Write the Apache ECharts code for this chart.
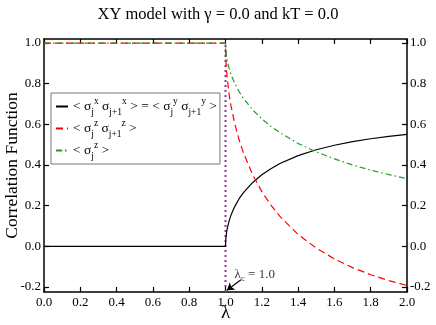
<!DOCTYPE html>
<html><head><meta charset="utf-8">
<script src="https://cdn.jsdelivr.net/npm/echarts@6/dist/echarts.min.js"></script>
<style>html,body{margin:0;padding:0;background:#fff}#c{width:436px;height:325px}</style>
</head><body><div id="c"></div>
<script>
const lambda = [0, 1, 1.001, 1.005, 1.01, 1.02, 1.03, 1.05, 1.075, 1.1, 1.15, 1.2, 1.25, 1.3, 1.4, 1.5, 1.6, 1.7, 1.8, 1.9, 2.0];
const sxsx = [0, 0, 0.028, 0.063, 0.089, 0.125, 0.153, 0.194, 0.234, 0.265, 0.314, 0.352, 0.382, 0.407, 0.446, 0.475, 0.497, 0.515, 0.529, 0.541, 0.551];
const szsz = [1, 1, 0.943, 0.873, 0.821, 0.748, 0.692, 0.607, 0.524, 0.457, 0.352, 0.269, 0.203, 0.147, 0.058, -0.009, -0.062, -0.105, -0.140, -0.169, -0.193];
const sz = [1, 1, 0.972, 0.936, 0.910, 0.874, 0.846, 0.803, 0.761, 0.726, 0.671, 0.627, 0.590, 0.559, 0.506, 0.465, 0.430, 0.400, 0.375, 0.353, 0.333];
const critX = [1, 1];
const critY = [-0.225, 1.0];
const yTicks = [-0.2, 0, 0.2, 0.4, 0.6, 0.8, 1.0];
const xMin = 0, xMax = 2, xStep = 0.2;
const yMin = -0.225, yMax = 1.02;

const F = 'Liberation Serif';
const pairs = (xs, ys) => xs.map((x, i) => [x, ys[i]]);
const legendText = {
  s1: '{m|< σ}{b|j}{p|x}{m| σ}{b|j+1}{p|x}{m| > = < σ}{b|j}{p|y}{m| σ}{b|j+1}{p|y}{m| >}',
  s2: '{m|< σ}{b|j}{p|z}{m| σ}{b|j+1}{p|z}{m| >}',
  s3: '{m|< σ}{b|j}{p|z}{m| >}'
};
const richSub = {
  m: {fontFamily: F, fontSize: 13.5, color: '#000', lineHeight: 21},
  b: {fontFamily: F, fontSize: 9.5, color: '#000', lineHeight: 10, verticalAlign: 'bottom'},
  p: {fontFamily: F, fontSize: 9.5, color: '#000', lineHeight: 10, verticalAlign: 'top'}
};
const chart = echarts.init(document.getElementById('c'), null, {renderer: 'canvas'});
const axisCommon = {
  axisLine: {show: true, onZero: false, lineStyle: {color: '#000', width: 1.5}},
  axisTick: {show: true, inside: true, length: 5, lineStyle: {color: '#000', width: 1.2}},
  splitLine: {show: false}
};
chart.setOption({
  animation: false,
  backgroundColor: '#fff',
  title: {text: 'XY model with γ = 0.0 and kT = 0.0', left: 'center', top: 1,
    textStyle: {fontFamily: F, fontSize: 16.5, fontWeight: 'normal', color: '#000'}},
  grid: {left: 44, right: 29, top: 39, bottom: 33, containLabel: false, outerBoundsMode: 'none'},
  legend: {
    data: ['s1', 's2', 's3'], orient: 'vertical', left: 51, top: 93,
    backgroundColor: '#fff', borderColor: '#777', borderWidth: 1,
    padding: [3, 3, 3, 4], itemGap: 1, itemWidth: 12, itemHeight: 1.5,
    formatter: n => legendText[n],
    textStyle: {fontFamily: F, fontSize: 13.5, color: '#000', rich: richSub}
  },
  xAxis: [
    Object.assign({type: 'value', min: xMin, max: xMax, interval: xStep, position: 'bottom',
      name: 'λ', nameLocation: 'middle', nameGap: 12, nameMoveOverlap: false,
      nameTextStyle: {fontFamily: F, fontSize: 19, color: '#000'},
      axisLabel: {fontFamily: F, fontSize: 13, color: '#000', margin: 4, formatter: v => v.toFixed(1)}}, axisCommon),
    Object.assign({type: 'value', min: xMin, max: xMax, interval: xStep, position: 'top',
      axisLabel: {show: false}}, axisCommon)
  ],
  yAxis: [
    Object.assign({type: 'value', min: yMin, max: yMax, position: 'left',
      name: 'Correlation Function', nameLocation: 'middle', nameGap: 23, nameMoveOverlap: false,
      nameTextStyle: {fontFamily: F, fontSize: 17.5, color: '#000'},
      axisLabel: {fontFamily: F, fontSize: 13, color: '#000', margin: 3, customValues: yTicks, formatter: v => v.toFixed(1)}}, axisCommon,
      {axisTick: Object.assign({}, axisCommon.axisTick, {customValues: yTicks})}),
    Object.assign({type: 'value', min: yMin, max: yMax, position: 'right',
      axisLabel: {fontFamily: F, fontSize: 13, color: '#000', margin: 3, customValues: yTicks, formatter: v => v.toFixed(1)}}, axisCommon,
      {axisTick: Object.assign({}, axisCommon.axisTick, {customValues: yTicks})})
  ],
  series: [
    {name: 's1', type: 'line', data: pairs(lambda, sxsx), symbol: 'none',
      legendIcon: 'path://M0,0H14V1H0Z',
      lineStyle: {color: '#000', width: 1.2}, itemStyle: {color: '#000'}},
    {name: 's2', type: 'line', data: pairs(lambda, szsz), symbol: 'none',
      legendIcon: 'path://M0,0H6V1H0Z M9,0H14V1H9Z',
      lineStyle: {color: '#ff0000', width: 1.2, type: [7, 4]}, itemStyle: {color: '#ff0000'}},
    {name: 's3', type: 'line', data: pairs(lambda, sz), symbol: 'none',
      legendIcon: 'path://M0,0H4V1H0Z M6,0H8V1H6Z M10,0H14V1H10Z',
      lineStyle: {color: '#1e9e1e', width: 1.2, type: [6, 3, 1.5, 3]}, itemStyle: {color: '#1e9e1e'}},
    {name: 'crit', type: 'line', data: pairs(critX, critY), symbol: 'none',
      lineStyle: {color: '#993399', width: 2, type: [2, 3]}, z: 1,
      markLine: {silent: true, symbol: ['none', 'arrow'], symbolSize: 7,
        lineStyle: {color: '#000', width: 1.2, type: 'solid'}, label: {show: false},
        data: [[{coord: [1.085, -0.165]}, {coord: [1.008, -0.216]}]]}},
    {name: 'note', type: 'scatter', data: [[1.05, -0.138]], symbolSize: 0,
      label: {show: true, position: 'right', distance: 0,
        formatter: '{m|λ}{b|c}{m| = 1.0}',
        rich: {m: {fontFamily: F, fontSize: 13, color: '#000', lineHeight: 18},
               b: {fontFamily: F, fontSize: 9, color: '#000', lineHeight: 9, verticalAlign: 'bottom'}}}}
  ]
});
</script></body></html>
